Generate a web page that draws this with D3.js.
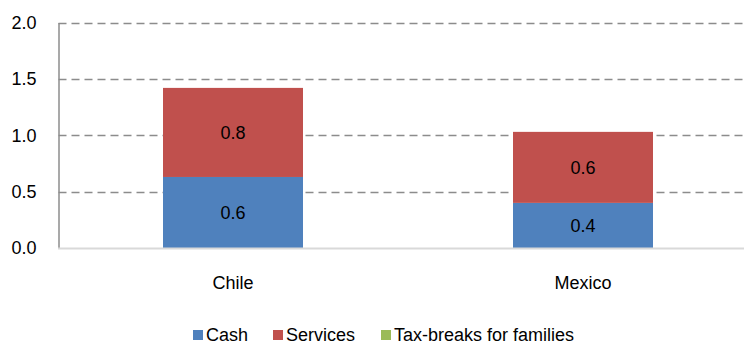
<!DOCTYPE html>
<html>
<head>
<meta charset="utf-8">
<script src="https://cdn.jsdelivr.net/npm/d3@7"></script>
<style>
  html, body { margin: 0; padding: 0; background: #fff; }
  svg { display: block; font-family: "Liberation Sans", Arial, sans-serif; }
</style>
</head>
<body>
<svg id="chart" width="744" height="347"></svg>
<script>
// Categories and stacked series values
const countries = ["Chile", "Mexico"];
const cashValues = [0.63, 0.40];
const servicesValues = [0.79, 0.63];
const taxBreakValues = [0, 0];
const seriesNames = ["Cash", "Services", "Tax-breaks for families"];
const seriesColors = ["#4F81BD", "#C0504D", "#9BBB59"];
const yTicks = [0, 0.5, 1.0, 1.5, 2.0];

const rows = countries.map((c, i) => ({
  country: c,
  "Cash": cashValues[i],
  "Services": servicesValues[i],
  "Tax-breaks for families": taxBreakValues[i]
}));

const svg = d3.select("#chart");
const fontSize = 18;

const x = d3.scaleBand()
  .domain(countries)
  .range([58, 758])
  .paddingInner(0.6)
  .paddingOuter(0.3);

const y = d3.scaleLinear()
  .domain([0, 2])
  .range([248, 22.5]);

const color = d3.scaleOrdinal().domain(seriesNames).range(seriesColors);

// Dashed horizontal gridlines
svg.append("g")
  .selectAll("line")
  .data(yTicks.filter(t => t > 0))
  .join("line")
  .attr("x1", 58.5)
  .attr("x2", 744)
  .attr("y1", d => Math.round(y(d)) + 0.5)
  .attr("y2", d => Math.round(y(d)) + 0.5)
  .attr("stroke", "#8c8c8c")
  .attr("stroke-width", 1.4)
  .attr("stroke-dasharray", "8,5");

// Stacked bars
const stack = d3.stack().keys(seriesNames);
const layers = stack(rows);

const layerG = svg.append("g")
  .selectAll("g")
  .data(layers)
  .join("g")
  .attr("fill", d => color(d.key));

layerG.selectAll("rect")
  .data(d => d.map(p => ({ key: d.key, p })))
  .join("rect")
  .attr("x", d => x(d.p.data.country))
  .attr("width", x.bandwidth())
  .attr("y", d => y(d.p[1]))
  .attr("height", d => y(d.p[0]) - y(d.p[1]));

// Value labels inside the segments
layerG.selectAll("text")
  .data(d => d.filter(p => p[1] - p[0] > 0).map(p => ({ key: d.key, p })))
  .join("text")
  .attr("x", d => x(d.p.data.country) + x.bandwidth() / 2)
  .attr("y", d => (y(d.p[0]) + y(d.p[1])) / 2)
  .attr("dy", "0.35em")
  .attr("text-anchor", "middle")
  .attr("font-size", fontSize)
  .attr("fill", "#000")
  .text(d => d3.format(".1f")(d.p[1] - d.p[0]));

// Y axis
const yAxis = svg.append("g")
  .attr("transform", "translate(58.5,0)")
  .call(d3.axisLeft(y).tickValues(yTicks).tickFormat(d3.format(".1f")).tickSize(0).tickPadding(22));
yAxis.select(".domain").attr("stroke", "#8c8c8c").attr("stroke-width", 1.5);
yAxis.selectAll("text").attr("font-size", fontSize).attr("fill", "#000")
  .attr("font-family", "'Liberation Sans', Arial, sans-serif");

// X axis baseline and category labels
const xAxis = svg.append("g")
  .attr("transform", "translate(0,248.5)")
  .call(d3.axisBottom(x).tickSize(0).tickPadding(28));
xAxis.select(".domain").attr("stroke", "#d9d9d9").attr("stroke-width", 2)
  .attr("d", "M58,0H744");
xAxis.selectAll("text").attr("font-size", fontSize).attr("fill", "#000")
  .attr("font-family", "'Liberation Sans', Arial, sans-serif");

// Legend
const legendX = [193, 273, 381];
const legend = svg.append("g")
  .selectAll("g")
  .data(seriesNames)
  .join("g")
  .attr("transform", (d, i) => `translate(${legendX[i]},330)`);
legend.append("rect")
  .attr("width", 10).attr("height", 10)
  .attr("fill", d => color(d));
legend.append("text")
  .attr("x", 13)
  .attr("y", 5)
  .attr("dy", "0.35em")
  .attr("font-size", fontSize)
  .attr("fill", "#000")
  .text(d => d);
</script>
</body>
</html>
